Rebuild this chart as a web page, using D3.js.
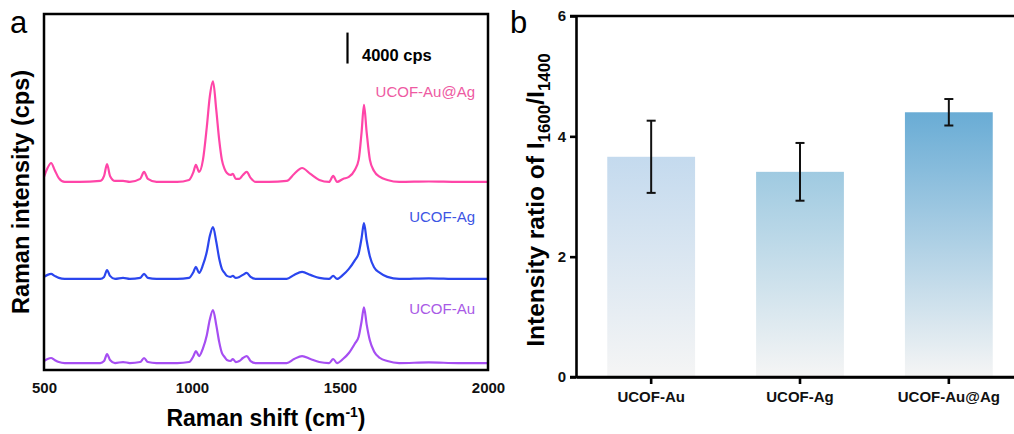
<!DOCTYPE html>
<html>
<head>
<meta charset="utf-8">
<script src="https://cdn.jsdelivr.net/npm/d3@7"></script>
<style>
  body { margin: 0; background: #fff; }
  svg { display: block; font-family: "Liberation Sans", Arial, sans-serif; }
</style>
</head>
<body>
<svg id="chart" width="1014" height="434"></svg>
<script>
// Raman shift sample points (cm-1), shared by the three spectra
const shifts = [500,512,524,536,550,570,620,690,703,713,723,740,767,790,825,838,851,880,950,990,
  1005,1013,1024,1037,1050,1060,1071,1082,1092,1101,1110,1118,1130,1138,1148,1160,1172,1185,1198,1215,
  1260,1320,1345,1372,1400,1430,1463,1477,1490,1510,1530,1550,1563,1573,1581,1590,1601,1615,1635,1660,
  1700,1800,1900,2000];

// intensity above each trace's baseline (cps)
const auAgSpec = [650,1800,2450,1550,500,0,0,130,780,2320,780,130,130,0,390,1290,390,0,0,260,
  1300,2200,1300,2850,7100,11000,13000,9300,5400,2850,1700,1150,900,1030,390,390,900,1300,520,0,
  0,130,1030,1800,1030,260,0,780,0,390,650,1550,2850,6450,9950,6450,2850,1420,650,260,
  0,60,0,0];
const agSpec = [260,520,650,390,130,0,0,0,260,1150,390,0,130,0,130,650,130,0,0,130,
  900,1550,780,1800,3500,5500,6700,4800,2600,1300,780,390,260,390,130,260,520,780,260,0,
  0,0,520,900,520,130,0,390,0,520,1300,2400,3300,5300,7200,5000,2900,1500,780,260,
  0,80,0,0];
const auSpec = [260,520,650,390,130,0,0,0,260,1150,390,0,130,0,130,650,130,0,0,130,
  900,1550,900,1900,3600,5600,6850,4900,2700,1300,780,390,260,520,130,260,650,900,260,0,
  0,0,520,900,520,130,0,520,0,520,1300,2500,3400,5400,7200,5000,2900,1500,650,260,
  0,80,0,0];

const specNames = ["UCOF-Au", "UCOF-Ag", "UCOF-Au@Ag"];
const specOffsets = [900, 11770, 24300];
const specColors = ["#a64ef2", "#2b46ee", "#ff45a8"];
const labelColors = ["#a95ae6", "#3d55e4", "#ee5aa2"];
const labelY = [7250, 19100, 35300]; // label baselines, cps
const shiftTicks = [500, 1000, 1500, 2000];
const scaleBarBase = 39600, scaleBarSize = 4000;

// panel b
const categories = ["UCOF-Au", "UCOF-Ag", "UCOF-Au@Ag"];
const ratioMean = [3.66, 3.41, 4.40];
const ratioErr = [0.60, 0.48, 0.22];
const ratioTicks = [0, 2, 4, 6];
const barTopColors = ["#c4daee", "#9fcae1", "#69acd5"];

const svg = d3.select("#chart");

// ---------- panel a ----------
const x = d3.scaleLinear().domain([500, 2000]).range([44, 488]);
const y = d3.scaleLinear().domain([0, 46000]).range([370, 14]);

const spectra = [auSpec, agSpec, auAgSpec];
const line = d3.line().curve(d3.curveMonotoneX);

spectra.forEach(function(s, i) {
  const pts = shifts.map(function(v, j) { return [x(v), y(s[j] + specOffsets[i])]; });
  svg.append("path")
    .attr("d", line(pts))
    .attr("fill", "none")
    .attr("stroke", specColors[i])
    .attr("stroke-width", 2.2)
    .attr("stroke-linejoin", "round");
});

specNames.forEach(function(n, i) {
  svg.append("text")
    .attr("x", 475).attr("y", y(labelY[i]))
    .attr("text-anchor", "end")
    .attr("font-size", 15)
    .attr("fill", labelColors[i])
    .text(n);
});

svg.append("rect")
  .attr("x", 44).attr("y", 14).attr("width", 444).attr("height", 356)
  .attr("fill", "none").attr("stroke", "#000").attr("stroke-width", 2.5);

const gxa = svg.append("g")
  .attr("transform", "translate(0,370)")
  .call(d3.axisBottom(x).tickValues(shiftTicks).tickSize(0).tickPadding(12).tickFormat(d3.format("d")));
gxa.select(".domain").remove();
gxa.selectAll("text").attr("font-size", 15).attr("font-weight", "bold").attr("fill", "#111")
  .attr("font-family", "'Liberation Sans', Arial, sans-serif");

// scale bar
svg.append("line")
  .attr("x1", 347.5).attr("x2", 347.5)
  .attr("y1", y(scaleBarBase)).attr("y2", y(scaleBarBase + scaleBarSize))
  .attr("stroke", "#000").attr("stroke-width", 2.2);
svg.append("text")
  .attr("x", 362).attr("y", 61)
  .attr("font-size", 16.5).attr("font-weight", "bold")
  .text(scaleBarSize + " cps");

svg.append("text")
  .attr("x", 266).attr("y", 426)
  .attr("text-anchor", "middle")
  .attr("font-size", 23).attr("font-weight", "bold")
  .html('Raman shift (cm<tspan font-size="14" dy="-9">-1</tspan><tspan dy="9">)</tspan>');

svg.append("text")
  .attr("transform", "translate(29,192) rotate(-90)")
  .attr("text-anchor", "middle")
  .attr("font-size", 23.5).attr("font-weight", "bold")
  .text("Raman intensity (cps)");

svg.append("text").attr("x", 10).attr("y", 33).attr("font-size", 31).text("a");
svg.append("text").attr("x", 510).attr("y", 33).attr("font-size", 31).text("b");

// ---------- panel b ----------
const xb = d3.scaleBand().domain(categories).range([576, 1024])
  .paddingInner(0.41).paddingOuter(0.21);
const yb = d3.scaleLinear().domain([0, 6]).range([377, 16]);

const defs = svg.append("defs");
barTopColors.forEach(function(c, i) {
  const g = defs.append("linearGradient")
    .attr("id", "barGrad" + i)
    .attr("x1", 0).attr("y1", 0).attr("x2", 0).attr("y2", 1);
  g.append("stop").attr("offset", "0%").attr("stop-color", c);
  g.append("stop").attr("offset", "100%").attr("stop-color", "#f5f5f5");
});

svg.selectAll(".bar")
  .data(categories)
  .enter().append("rect")
  .attr("class", "bar")
  .attr("x", function(d) { return xb(d); })
  .attr("width", xb.bandwidth())
  .attr("y", function(d, i) { return yb(ratioMean[i]); })
  .attr("height", function(d, i) { return yb(0) - yb(ratioMean[i]); })
  .attr("fill", function(d, i) { return "url(#barGrad" + i + ")"; });

// error bars
categories.forEach(function(d, i) {
  const cx = xb(d) + xb.bandwidth() / 2;
  const hi = yb(ratioMean[i] + ratioErr[i]), lo = yb(ratioMean[i] - ratioErr[i]);
  const eb = svg.append("g").attr("stroke", "#111").attr("stroke-width", 2);
  eb.append("line").attr("x1", cx).attr("x2", cx).attr("y1", hi).attr("y2", lo);
  eb.append("line").attr("x1", cx - 4.5).attr("x2", cx + 4.5).attr("y1", hi).attr("y2", hi);
  eb.append("line").attr("x1", cx - 4.5).attr("x2", cx + 4.5).attr("y1", lo).attr("y2", lo);
});

const gyb = svg.append("g")
  .attr("transform", "translate(576,0)")
  .call(d3.axisLeft(yb).tickValues(ratioTicks).tickFormat(d3.format("d"))
    .tickSize(6).tickSizeOuter(0).tickPadding(4));
const gxb = svg.append("g")
  .attr("transform", "translate(0,377)")
  .call(d3.axisBottom(xb).tickSize(7).tickSizeOuter(0).tickPadding(7));

[gyb, gxb].forEach(function(g) {
  g.select(".domain").attr("stroke-width", 2.6);
  g.selectAll(".tick line").attr("stroke-width", 2.6);
  g.selectAll("text").attr("font-size", 15).attr("font-weight", "bold").attr("fill", "#111")
    .attr("font-family", "'Liberation Sans', Arial, sans-serif");
});

svg.append("line")
  .attr("x1", 570).attr("x2", 1014).attr("y1", yb(6)).attr("y2", yb(6))
  .attr("stroke", "#000").attr("stroke-width", 2.6);
svg.append("line")
  .attr("x1", 570).attr("x2", 1014).attr("y1", yb(0)).attr("y2", yb(0))
  .attr("stroke", "#000").attr("stroke-width", 2.6);

svg.append("text")
  .attr("transform", "translate(544,200) rotate(-90)")
  .attr("text-anchor", "middle")
  .attr("font-size", 24.5).attr("font-weight", "bold")
  .html('Intensity ratio of I<tspan font-size="17" dy="6">1600</tspan><tspan dy="-6">/I</tspan><tspan font-size="17" dy="6">1400</tspan>');
</script>
</body>
</html>
